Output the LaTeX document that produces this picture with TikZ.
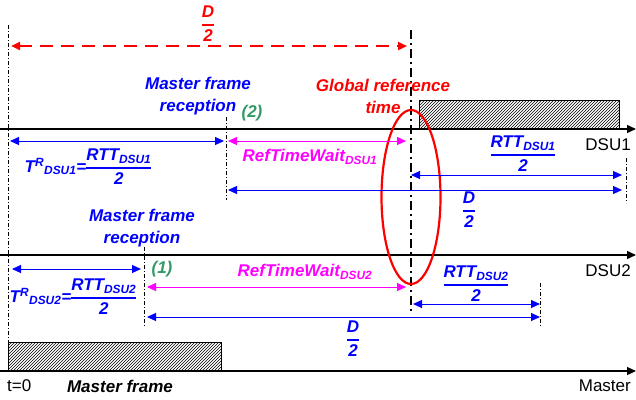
\documentclass[tikz,border=0pt]{standalone}
\usepackage{fontspec}
\setmainfont{Liberation Sans}
\usetikzlibrary{arrows.meta,patterns}
\definecolor{refblue}{RGB}{0,0,255}
\definecolor{refmag}{RGB}{255,0,255}
\definecolor{refred}{RGB}{255,0,0}
\definecolor{refgreen}{RGB}{51,153,102}
\setlength{\arrayrulewidth}{1.2pt}
\newcommand{\frc}[2]{\begin{tabular}{@{}c@{}}#1\\\hline #2\end{tabular}}
\begin{document}
\begin{tikzpicture}[x=1pt,y=-1pt,
  timeline/.style={line width=1.2pt,-{Triangle[length=9pt,width=8pt]}},
  guide/.style={line width=0.6pt,dash pattern=on 4pt off 2pt on 1pt off 2pt},
  globline/.style={line width=1.8pt,dash pattern=on 9pt off 4pt on 2pt off 4pt},
  dimarrow/.style={line width=1pt,{Triangle[length=9pt,width=8pt]}-{Triangle[length=9pt,width=8pt]}},
  lbl/.style={font=\fontsize{17}{22}\selectfont\bfseries\itshape,inner sep=0pt,align=center},
  plain/.style={font=\fontsize{17}{22}\selectfont,inner sep=0pt},
  hatchbox/.style={draw,line width=0.6pt,pattern=north east lines}]
\useasboundingbox (0,0) rectangle (636,399);
% time lines
\coordinate (d1s) at (0,129); \coordinate (d1e) at (636,129);
\coordinate (d2s) at (0,255); \coordinate (d2e) at (636,255);
\coordinate (ms) at (0,371); \coordinate (me) at (636,371);
\draw[timeline] (d1s) -- (d1e);
\draw[timeline] (d2s) -- (d2e);
\draw[timeline] (ms) -- (me);
\node[plain,anchor=east] (lab1) at (631,145) {DSU1};
\node[plain,anchor=east] (lab2) at (631,271) {DSU2};
\node[plain,anchor=east] (lab3) at (631,386) {Master};
\node[plain,anchor=west] (tz) at (7,386) {t=0};
\node[lbl] (mf) at (120,386) {Master frame};
% frames
\draw[hatchbox] (8,342) rectangle (221,371);
\draw[hatchbox] (419,100) rectangle (619,129);
% guides
\coordinate (g0a) at (8,25); \coordinate (g0b) at (8,371);
\coordinate (g1a) at (226,117); \coordinate (g1b) at (226,200);
\coordinate (g2a) at (626,158); \coordinate (g2b) at (626,203);
\coordinate (g3a) at (144,247); \coordinate (g3b) at (144,327);
\coordinate (g4a) at (540,283); \coordinate (g4b) at (540,327);
\coordinate (gra) at (411,30); \coordinate (grb) at (411,312);
\draw[guide] (g0a) -- (g0b);
\draw[guide] (g1a) -- (g1b);
\draw[guide] (g2a) -- (g2b);
\draw[guide] (g3a) -- (g3b);
\draw[guide] (g4a) -- (g4b);
\draw[globline] (gra) -- (grb);
% global reference
\coordinate (ra) at (11,46); \coordinate (rb) at (407,46);
\draw[refred,line width=2.5pt,dash pattern=on 13pt off 8pt,{Triangle[length=9pt,width=8pt]}-{Triangle[length=9pt,width=8pt]}] (ra) -- (rb);
\node[lbl,refred] (hd) at (208,25) {\frc{D}{2}};
\node[lbl,refred] (glob) at (383,96) {Global reference\\time};
\draw[refred,line width=2.2pt] (411,197) ellipse [x radius=29.5,y radius=87];
% DSU1
\node[lbl,refblue] (rx1) at (198,96) {Master frame\\reception};
\node[lbl,refgreen] (n2) at (252,113) {(2)};
\coordinate (t1a) at (10,141); \coordinate (t1b) at (224,141);
\draw[dimarrow,refblue] (t1a) -- (t1b);
\node[lbl,refblue] (tr1) at (88,168) {T\textsuperscript{R}\textsubscript{DSU1}=\frc{RTT\textsubscript{DSU1}}{2}};
\coordinate (w1a) at (228,141); \coordinate (w1b) at (406,141);
\draw[dimarrow,refmag] (w1a) -- (w1b);
\node[lbl,refmag] (wt1) at (310,157) {RefTimeWait\textsubscript{DSU1}};
\coordinate (r1a) at (411,175); \coordinate (r1b) at (622,175);
\draw[dimarrow,refblue] (r1a) -- (r1b);
\node[lbl,refblue] (rt1) at (523,155) {\frc{RTT\textsubscript{DSU1}}{2}};
\coordinate (h1a) at (228,190); \coordinate (h1b) at (622,190);
\draw[dimarrow,refblue] (h1a) -- (h1b);
\node[lbl,refblue] (hd1) at (469,211) {\frc{D}{2}};
% DSU2
\node[lbl,refblue] (rx2) at (142,228) {Master frame\\reception};
\node[lbl,refgreen] (n1) at (162,269) {(1)};
\coordinate (t2a) at (12,269); \coordinate (t2b) at (141,269);
\draw[dimarrow,refblue] (t2a) -- (t2b);
\node[lbl,refblue] (tr2) at (73,298) {T\textsuperscript{R}\textsubscript{DSU2}=\frc{RTT\textsubscript{DSU2}}{2}};
\coordinate (w2a) at (147,287); \coordinate (w2b) at (406,287);
\draw[dimarrow,refmag] (w2a) -- (w2b);
\node[lbl,refmag] (wt2) at (305,272) {RefTimeWait\textsubscript{DSU2}};
\coordinate (r2a) at (413,304); \coordinate (r2b) at (540,304);
\draw[dimarrow,refblue] (r2a) -- (r2b);
\node[lbl,refblue] (rt2) at (476,285) {\frc{RTT\textsubscript{DSU2}}{2}};
\coordinate (h2a) at (147,317); \coordinate (h2b) at (540,317);
\draw[dimarrow,refblue] (h2a) -- (h2b);
\node[lbl,refblue] (hd2) at (353,340) {\frc{D}{2}};
\end{tikzpicture}
\end{document}
